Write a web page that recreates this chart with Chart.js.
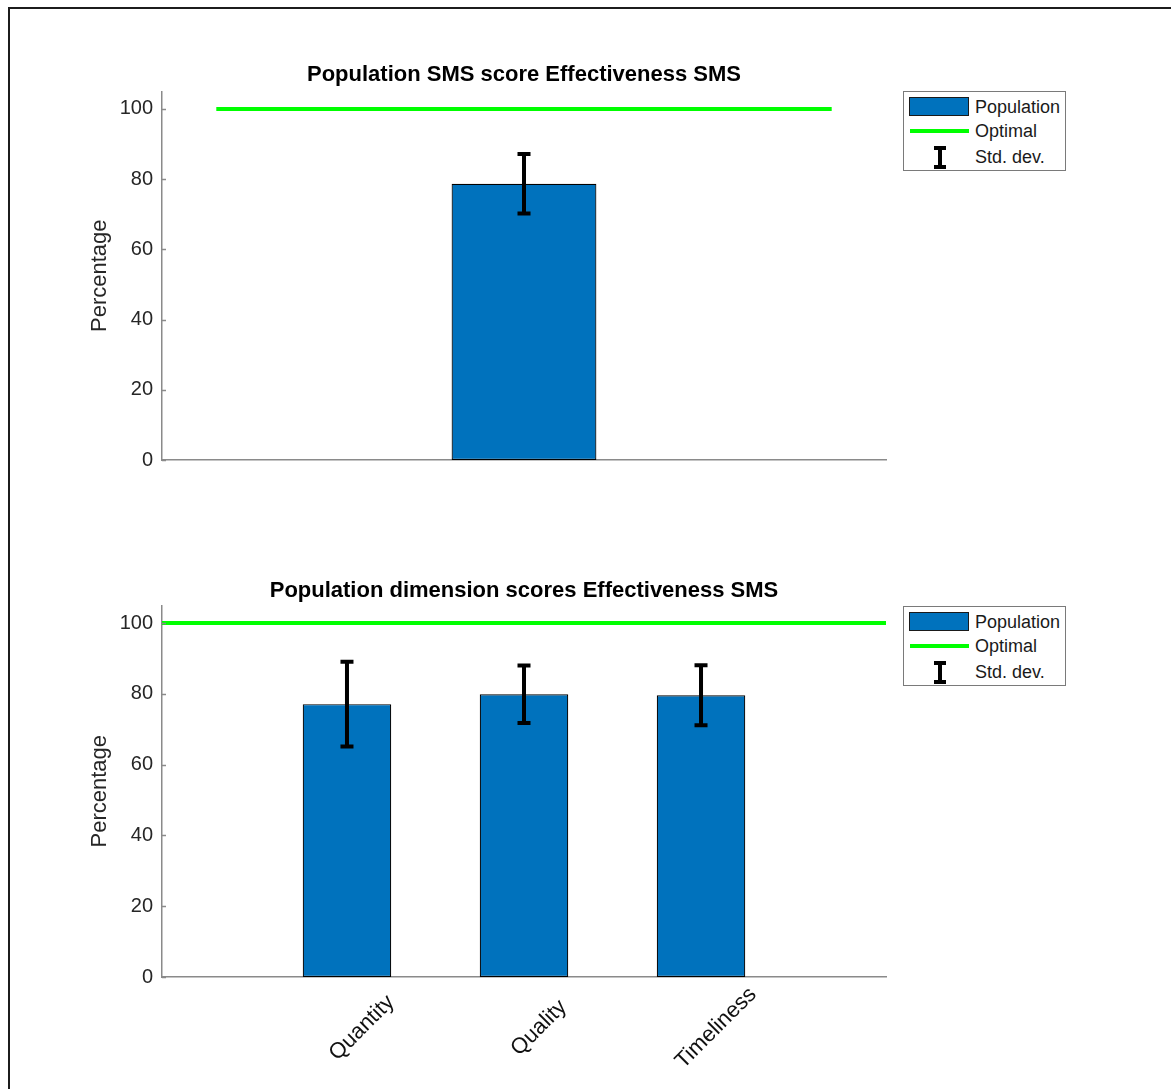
<!DOCTYPE html>
<html>
<head>
<meta charset="utf-8">
<title>Effectiveness SMS</title>
<script src="https://cdn.jsdelivr.net/npm/chart.js@4.4.1/dist/chart.umd.min.js"></script>
<style>
  html, body { margin: 0; padding: 0; background: #fff; overflow: hidden; }
  body { width: 1171px; height: 1089px; position: relative; font-family: "Liberation Sans", Arial, sans-serif; }
  .frame { position: absolute; left: 8px; top: 7px; width: 1200px; height: 1120px;
           border-left: 2px solid #1c1c1c; border-top: 2px solid #1c1c1c; }
  .plot { position: absolute; left: 0; }
  #topPlot { top: 0; }
  #bottomPlot { top: 520px; }
  .legend { position: absolute; left: 903px; width: 161px; height: 78px; border: 1px solid #7a7a7a;
            background: #fff; font-size: 18px; color: #1a1a1a; }
  .legend .txt { position: absolute; left: 71px; height: 22px; line-height: 22px; white-space: nowrap; }
  .legend .swatch { position: absolute; left: 5px; top: 5px; width: 58px; height: 17px;
                    background: #0072BD; border: 1px solid #1a1a1a; }
  .legend .optline { position: absolute; left: 6px; top: 37px; width: 59px; height: 4px; background: #00ff00; }
  .legend .ibar { position: absolute; left: 34px; top: 54px; width: 4px; height: 23px; background: #000; }
  .legend .icap { position: absolute; left: 30px; width: 12px; height: 4px; background: #000; }
</style>
</head>
<body>
<div class="frame"></div>
<canvas id="topPlot" class="plot" width="1171" height="520"></canvas>
<canvas id="bottomPlot" class="plot" width="1171" height="569"></canvas>

<div class="legend" style="top:91px">
  <div class="swatch"></div><div class="txt" style="top:4px">Population</div>
  <div class="optline"></div><div class="txt" style="top:28px">Optimal</div>
  <div class="ibar"></div><div class="icap" style="top:54px"></div><div class="icap" style="top:73px"></div>
  <div class="txt" style="top:54px">Std. dev.</div>
</div>
<div class="legend" style="top:606px">
  <div class="swatch"></div><div class="txt" style="top:4px">Population</div>
  <div class="optline"></div><div class="txt" style="top:28px">Optimal</div>
  <div class="ibar"></div><div class="icap" style="top:54px"></div><div class="icap" style="top:73px"></div>
  <div class="txt" style="top:54px">Std. dev.</div>
</div>

<script>
// Overall SMS score (population mean and standard deviation)
const overallPos = [1];
const overallScore = [78.7];
const overallStd = [8.5];

// Dimension scores
const dimensions = ['Quantity', 'Quality', 'Timeliness'];
const dimensionPos = [1, 2, 3];
const dimensionScores = [77.1, 79.9, 79.6];
const dimensionStd = [12.0, 8.1, 8.5];

// Optimal reference level and its horizontal extent on each plot
const optimalScore = 100;
const overallOptimalX = [-0.7, 2.7];
const dimensionXRange = [-0.045, 4.045];
const overallXRange = [-1, 3];

const yTicks = [0, 20, 40, 60, 80, 100];
const yMax = 105;

const FONT = '"Liberation Sans", Arial, sans-serif';
const AXIS_COLOR = '#8a8a8a';
const TEXT_COLOR = '#262626';
const BAR_COLOR = '#0072BD';
const OPT_COLOR = '#00ff00';

Chart.defaults.font.family = FONT;
Chart.defaults.color = TEXT_COLOR;

// Draws mean ± std. dev. whiskers on the bars of dataset 0
const errorBars = {
  id: 'errorBars',
  afterDatasetsDraw(chart) {
    const meta = chart.getDatasetMeta(0);
    const ds = chart.data.datasets[0];
    const y = chart.scales.y;
    const ctx = chart.ctx;
    const cap = 6.5;
    ctx.save();
    ctx.strokeStyle = '#000';
    ctx.lineWidth = 4;
    meta.data.forEach((bar, i) => {
      const v = ds.data[i].y, sd = ds.stdDev[i];
      const hi = y.getPixelForValue(v + sd), lo = y.getPixelForValue(v - sd);
      ctx.beginPath();
      ctx.moveTo(bar.x, hi); ctx.lineTo(bar.x, lo);
      ctx.moveTo(bar.x - cap, hi); ctx.lineTo(bar.x + cap, hi);
      ctx.moveTo(bar.x - cap, lo); ctx.lineTo(bar.x + cap, lo);
      ctx.stroke();
    });
    ctx.restore();
  }
};

// Short tick marks pointing into the plot area on the y axis
const inwardTicks = {
  id: 'inwardTicks',
  afterDraw(chart) {
    const y = chart.scales.y;
    const ctx = chart.ctx;
    const left = chart.chartArea.left;
    ctx.save();
    ctx.strokeStyle = AXIS_COLOR;
    ctx.lineWidth = 1.5;
    y.ticks.forEach(t => {
      const py = Math.round(y.getPixelForValue(t.value)) + 0.5;
      ctx.beginPath();
      ctx.moveTo(left, py); ctx.lineTo(left + 4, py);
      ctx.stroke();
    });
    ctx.restore();
  }
};

// Category names under the bars, rotated 45° and centred below each bar
const slantedLabels = {
  id: 'slantedLabels',
  afterDraw(chart, args, opts) {
    if (!opts.labels) return;
    const x = chart.scales.x;
    const ctx = chart.ctx;
    const bottom = chart.chartArea.bottom;
    ctx.save();
    ctx.fillStyle = '#111';
    ctx.font = '22px ' + FONT;
    ctx.textAlign = 'center';
    ctx.textBaseline = 'middle';
    opts.positions.forEach((p, i) => {
      ctx.save();
      ctx.translate(x.getPixelForValue(p) + 15, bottom + 51);
      ctx.rotate(-Math.PI / 4);
      ctx.fillText(opts.labels[i], 0, 0);
      ctx.restore();
    });
    ctx.restore();
  }
};

function yScale() {
  return {
    type: 'linear',
    min: 0,
    max: yMax,
    afterBuildTicks: s => { s.ticks = yTicks.map(v => ({ value: v })); },
    afterFit: s => { s.width = 162; },
    grid: { display: false, drawTicks: false },
    border: { display: true, color: AXIS_COLOR, width: 1.5 },
    ticks: { padding: 9, font: { size: 20 }, color: TEXT_COLOR },
    title: {
      display: true, text: 'Percentage', color: TEXT_COLOR,
      font: { size: 22, lineHeight: 1.2 }, padding: { top: 87, bottom: 0 }
    }
  };
}

function titleOpts(text, top, bottom) {
  return {
    display: true, text, fullSize: false, color: '#000',
    font: { size: 22, weight: 'bold', lineHeight: 1.2 },
    padding: { top, bottom }
  };
}

function barDataset(pos, scores, sd, pct) {
  return {
    type: 'bar',
    label: 'Population',
    data: pos.map((x, i) => ({ x, y: scores[i] })),
    stdDev: sd,
    backgroundColor: BAR_COLOR,
    borderColor: '#000',
    borderWidth: 1.2,
    borderSkipped: false,
    barPercentage: pct,
    categoryPercentage: 1,
    order: 2
  };
}

function optimalDataset(xs) {
  return {
    type: 'line',
    label: 'Optimal',
    data: xs.map(x => ({ x, y: optimalScore })),
    borderColor: OPT_COLOR,
    borderWidth: 4,
    pointRadius: 0,
    fill: false,
    tension: 0,
    order: 1
  };
}

const common = {
  responsive: false,
  animation: false,
  devicePixelRatio: 1,
  events: [],
  layout: { padding: { left: 0, right: 285, top: 0, bottom: 0 } }
};

// Top plot: overall SMS score
new Chart(document.getElementById('topPlot'), {
  data: { datasets: [
    barDataset(overallPos, overallScore, overallStd, 0.8),
    optimalDataset(overallOptimalX)
  ] },
  options: {
    ...common,
    plugins: {
      legend: { display: false }, tooltip: { enabled: false },
      title: titleOpts('Population SMS score Effectiveness SMS', 62, 3),
      slantedLabels: {}
    },
    scales: {
      x: {
        type: 'linear', min: overallXRange[0], max: overallXRange[1], offset: false,
        ticks: { display: false, stepSize: 1 },
        grid: { display: false, drawTicks: false },
        border: { display: true, color: AXIS_COLOR, width: 1.5 },
        afterFit: s => { s.height = 60; }
      },
      y: yScale()
    }
  },
  plugins: [errorBars, inwardTicks, slantedLabels]
});

// Bottom plot: dimension scores
new Chart(document.getElementById('bottomPlot'), {
  data: { datasets: [
    barDataset(dimensionPos, dimensionScores, dimensionStd, 0.5),
    optimalDataset(dimensionXRange)
  ] },
  options: {
    ...common,
    plugins: {
      legend: { display: false }, tooltip: { enabled: false },
      title: titleOpts('Population dimension scores Effectiveness SMS', 58, 1),
      slantedLabels: { labels: dimensions, positions: dimensionPos }
    },
    scales: {
      x: {
        type: 'linear', min: dimensionXRange[0], max: dimensionXRange[1], offset: false,
        afterBuildTicks: s => { s.ticks = dimensionPos.map(v => ({ value: v })); },
        ticks: { display: false },
        grid: { display: false, drawTicks: false },
        border: { display: true, color: AXIS_COLOR, width: 1.5 },
        afterFit: s => { s.height = 112; }
      },
      y: yScale()
    }
  },
  plugins: [errorBars, inwardTicks, slantedLabels]
});
</script>
</body>
</html>
